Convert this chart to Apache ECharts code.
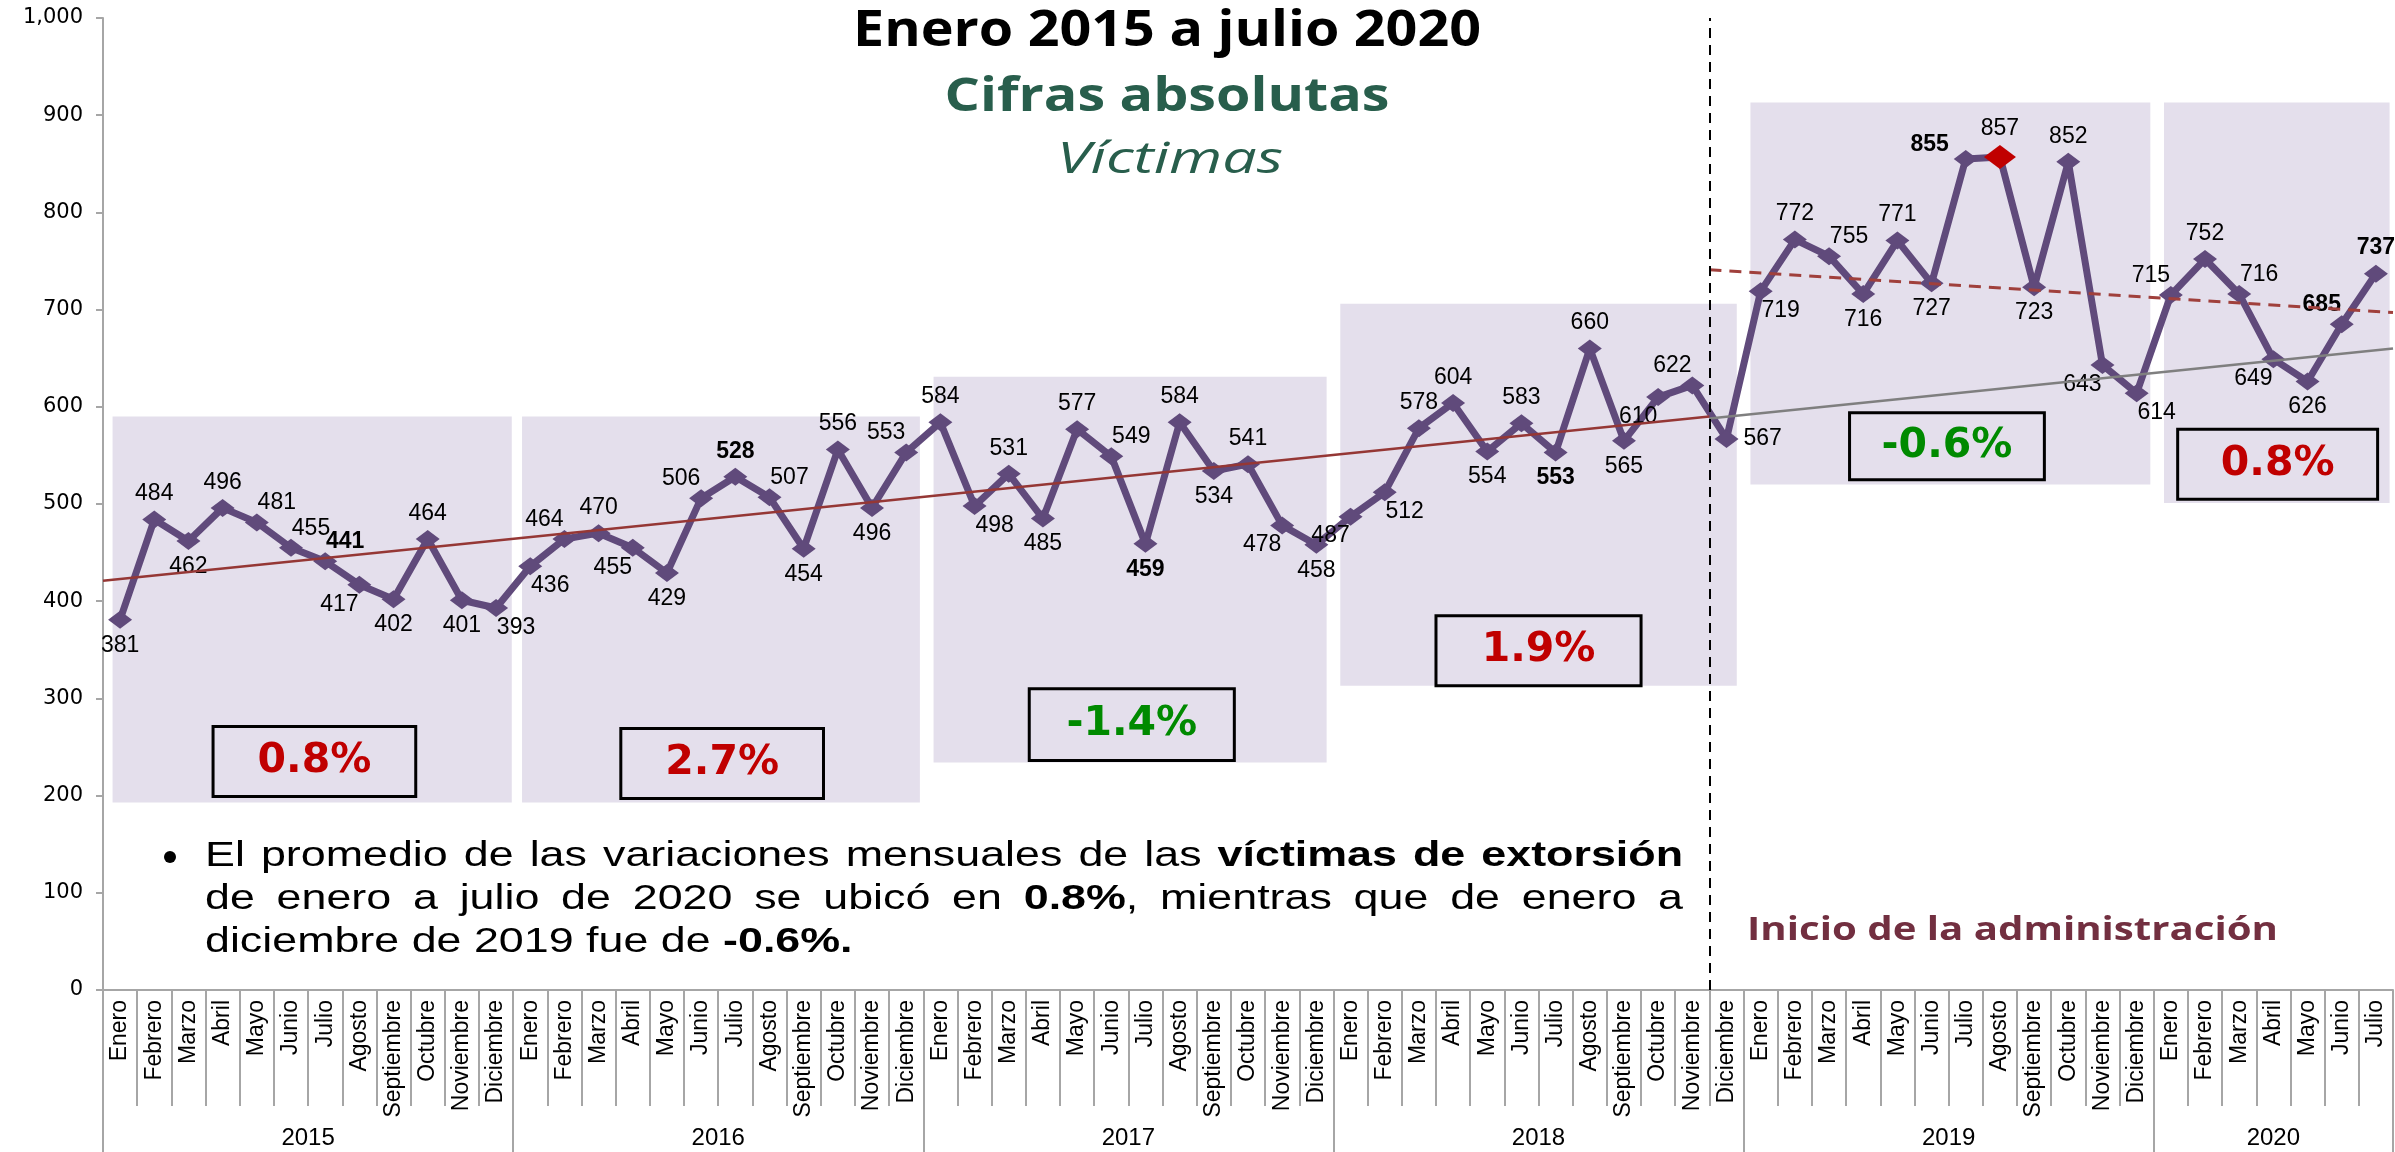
<!DOCTYPE html>
<html>
<head>
<meta charset="utf-8">
<title>Víctimas de extorsión</title>
<script src="https://cdn.jsdelivr.net/npm/echarts@6.0.0/dist/echarts.min.js"></script>
<style>
  html, body { margin: 0; padding: 0; background: #fff; }
  #main { width: 2395px; height: 1152px; }
</style>
</head>
<body>
<div id="main"></div>
<script>
// datos
const meses = ['Enero', 'Febrero', 'Marzo', 'Abril', 'Mayo', 'Junio', 'Julio', 'Agosto', 'Septiembre', 'Octubre', 'Noviembre', 'Diciembre'];
const anios = ['2015', '2016', '2017', '2018', '2019', '2020'];
const mesesPorAnio = [12, 12, 12, 12, 12, 7];
const victimas = [
  381, 484, 462, 496, 481, 455, 441, 417, 402, 464, 401, 393,
  436, 464, 470, 455, 429, 506, 528, 507, 454, 556, 496, 553,
  584, 498, 531, 485, 577, 549, 459, 584, 534, 541, 478, 458,
  487, 512, 578, 604, 554, 583, 553, 660, 565, 610, 622, 567,
  719, 772, 755, 716, 771, 727, 855, 857, 723, 852, 643, 614,
  715, 752, 716, 649, 626, 685, 737
];
const negritas = [6, 18, 30, 42, 54, 65, 66];
const maximo = 55;
const inicioAdmin = 47; // diciembre 2018
const variaciones = ['0.8%', '2.7%', '-1.4%', '1.9%', '-0.6%', '0.8%'];
// tendencias [mes, valor]
const tendencia1 = [[0, 421], [47, 590]];
const tendencia2 = [[47, 588], [67, 660]];
const tendencia3 = [[47, 741], [67, 697]];

// posiciones de etiquetas y recuadros
const posEtiqueta = [
  'b', 't', 'b', 't', 'tr', 'tr', 'tr', 'bl', 'b', 't', 'b', 'br',
  'br', 'tl', 't', 'bl', 'b', 'tl', 't', 'tr', 'b', 't', 'b', 'tl',
  't', 'br', 't', 'b', 't', 'tr', 'b', 't', 'b', 't', 'bl', 'b',
  'bl', 'br', 't', 't', 'b', 't', 'b', 't', 'b', 'bl', 'tl', 'r',
  'br', 't', 'tr', 'b', 't', 'b', 'lt', 't', 'b', 't', 'bl', 'br',
  'tl', 't', 'tr', 'bl', 'b', 'tl', 't'
];
const zonas = [[0.28, 11.96, 193, 590], [12.26, 23.9, 193, 590], [24.3, 35.8, 234, 631],
  [36.2, 47.8, 313, 706], [48.2, 59.9, 520, 913], [60.3, 66.9, 501, 913]];
const cajas = [[3.22, 9.15, 199, 271], [15.15, 21.08, 197, 269], [27.1, 33.1, 236, 310],
  [39.0, 45.0, 313, 385], [51.1, 56.8, 525, 594], [60.7, 66.55, 505, 577]];

const categorias = [];
anios.forEach((a, k) => {
  for (let m = 0; m < mesesPorAnio[k]; m++) categorias.push(meses[m]);
});
const N = categorias.length;
const limites = [0];
mesesPorAnio.forEach(n => limites.push(limites[limites.length - 1] + n));
const centrosAnio = anios.map((a, k) => (limites[k] + limites[k + 1]) / 2);

const POS = {
  t: {position: 'top'},
  b: {position: 'bottom'},
  tl: {position: 'top', offset: [-20, 6]},
  tr: {position: 'top', offset: [20, 6]},
  bl: {position: 'bottom', offset: [-20, -6]},
  br: {position: 'bottom', offset: [20, -6]},
  l: {position: 'left'},
  lt: {position: 'left', offset: [0, -14]},
  r: {position: 'right'}
};

// medir texto para ajustar anchos
const ctx = document.createElement('canvas').getContext('2d');
function medir(t, font) {
  ctx.font = font;
  return ctx.measureText(t).width;
}

function textoAjustado(texto, x, y, ancho, size, weight, style, color, family, align) {
  const font = style + ' ' + weight + ' ' + size + 'px "' + family + '"';
  const sx = ancho / medir(texto, font);
  return {
    type: 'text', x: x, y: y, scaleX: sx, silent: true,
    style: {
      text: texto, fontSize: size, fontWeight: weight, fontStyle: style,
      fontFamily: family, fill: color, align: align || 'center', verticalAlign: 'middle'
    }
  };
}

// párrafo justificado
const parrafo = [
  'El promedio de las variaciones mensuales de las *víctimas* *de* *extorsión*',
  'de enero a julio de 2020 se ubicó en *0.8%*, mientras que de enero a',
  'diciembre de 2019 fue de *-0.6%.*'
];
const FS = 35, SX = 1.28, IZQ = 205, DER = 1683;
const fNormal = FS + 'px "Liberation Sans"';
const fBold = 'bold ' + FS + 'px "Liberation Sans"';

function lineaParrafo(linea, y, justificar) {
  const items = linea.split(' ').map(t => {
    const partes = t.split('*');
    let w = 0;
    partes.forEach((p, i) => { w += medir(p, i % 2 ? fBold : fNormal); });
    const txt = partes.map((p, i) => (i % 2 && p) ? '{b|' + p + '}' : p).join('');
    return {txt: txt, w: w * SX};
  });
  const total = items.reduce((s, it) => s + it.w, 0);
  const hueco = justificar ? (DER - IZQ - total) / (items.length - 1) : medir(' ', fNormal) * SX;
  let x = IZQ;
  return items.map(it => {
    const el = {
      type: 'text', x: x, y: y, scaleX: SX, silent: true,
      style: {
        text: it.txt, fontSize: FS, fontFamily: 'Liberation Sans', fill: '#000',
        align: 'left', verticalAlign: 'middle',
        rich: {b: {fontSize: FS, fontFamily: 'Liberation Sans', fontWeight: 'bold', fill: '#000'}}
      }
    };
    x += it.w + hueco;
    return el;
  });
}

const graficos = [
  textoAjustado('Enero 2015 a julio 2020', 1167, 32, 628, 50, 'bold', 'normal', '#000', 'Open Sans'),
  textoAjustado('Cifras absolutas', 1167, 98, 445, 46, 'bold', 'normal', '#285e4c', 'Open Sans'),
  textoAjustado('Víctimas', 1170, 160, 226, 44, 'normal', 'italic', '#285e4c', 'Open Sans'),
  textoAjustado('Inicio de la administración', 1747, 931, 531, 33, 'bold', 'normal', '#722f40', 'Open Sans', 'left'),
  {type: 'circle', shape: {cx: 170, cy: 857, r: 6}, style: {fill: '#000'}, silent: true}
].concat(
  lineaParrafo(parrafo[0], 856, true),
  lineaParrafo(parrafo[1], 899, true),
  lineaParrafo(parrafo[2], 942, false)
);

const areas = zonas.map(z => [
  {xAxis: z[0], yAxis: z[3], itemStyle: {color: '#e4dfec'}, label: {show: false}},
  {xAxis: z[1], yAxis: z[2]}
]).concat(cajas.map((c, k) => [
  {
    xAxis: c[0], yAxis: c[3],
    itemStyle: {color: 'rgba(0,0,0,0)', borderColor: '#000', borderWidth: 3},
    label: {
      show: true, position: 'inside', formatter: variaciones[k],
      fontSize: 41, fontWeight: 'bold', fontFamily: 'DejaVu Sans',
      color: variaciones[k].charAt(0) === '-' ? '#008a00' : '#c00000'
    }
  },
  {xAxis: c[1], yAxis: c[2]}
]));

const chart = echarts.init(document.getElementById('main'));
const option = {
  animation: false,
  backgroundColor: '#fff',
  grid: {left: 103, right: 2, top: 18, bottom: 162, containLabel: false, outerBoundsMode: 'none'},
  xAxis: [{
    type: 'category',
    data: categorias,
    position: 'bottom',
    boundaryGap: true,
    axisLine: {show: true, lineStyle: {color: '#a6a6a6', width: 2}},
    axisTick: {show: true, interval: 0, length: 116, lineStyle: {color: '#a6a6a6', width: 2}},
    axisLabel: {interval: 0, rotate: 90, margin: 10, fontSize: 23, fontFamily: 'Liberation Sans', color: '#000'},
    splitLine: {show: false}
  }, {
    type: 'value',
    min: 0,
    max: N,
    position: 'bottom',
    axisLine: {show: false},
    axisTick: {show: true, customValues: limites, length: 162, lineStyle: {color: '#a6a6a6', width: 2}},
    axisLabel: {
      show: true, customValues: centrosAnio, margin: 136,
      fontSize: 24, fontFamily: 'Liberation Sans', color: '#000',
      formatter: function (v) {
        return anios[centrosAnio.indexOf(v)];
      }
    },
    splitLine: {show: false}
  }],
  yAxis: {
    type: 'value',
    min: 0,
    max: 1000,
    interval: 100,
    axisLine: {show: true, lineStyle: {color: '#a6a6a6', width: 2}},
    axisTick: {show: true, length: 7, lineStyle: {color: '#a6a6a6', width: 2}},
    axisLabel: {
      fontSize: 21, fontFamily: 'DejaVu Sans', color: '#000', margin: 20,
      formatter: function (v) {
        return v.toLocaleString('en-US');
      }
    },
    splitLine: {show: false}
  },
  series: [{
    name: 'Tendencia 2015-2018',
    type: 'line',
    xAxisIndex: 1,
    data: tendencia1,
    symbol: 'none',
    silent: true,
    z: 4,
    lineStyle: {color: '#953735', width: 2.5},
    markArea: {silent: true, data: areas},
    markLine: {
      silent: true,
      symbol: ['none', 'none'],
      label: {show: false},
      lineStyle: {type: [10, 7], color: '#000', width: 2},
      data: [{xAxis: inicioAdmin}]
    }
  }, {
    name: 'Tendencia 2019-2020',
    type: 'line',
    xAxisIndex: 1,
    data: tendencia2,
    symbol: 'none',
    silent: true,
    z: 4,
    lineStyle: {color: '#7f7f7f', width: 2.5}
  }, {
    name: 'Tendencia 2019',
    type: 'line',
    xAxisIndex: 1,
    data: tendencia3,
    symbol: 'none',
    silent: true,
    z: 4,
    lineStyle: {color: '#a0403c', width: 3, type: [12, 8]}
  }, {
    name: 'Víctimas',
    type: 'line',
    xAxisIndex: 0,
    z: 3,
    symbol: 'diamond',
    symbolSize: [24, 18],
    lineStyle: {color: '#604a7b', width: 7},
    itemStyle: {color: '#604a7b'},
    label: {show: true, color: '#000', fontSize: 23, fontFamily: 'Liberation Sans', distance: 5},
    emphasis: {disabled: true},
    data: victimas.map(function (v, i) {
      const item = {
        value: v,
        label: Object.assign({fontWeight: negritas.indexOf(i) >= 0 ? 'bold' : 'normal'}, POS[posEtiqueta[i]])
      };
      if (i === maximo) {
        item.symbolSize = [32, 24];
        item.itemStyle = {color: '#c00000'};
      }
      return item;
    })
  }],
  graphic: graficos
};
chart.setOption(option);
</script>
</body>
</html>
